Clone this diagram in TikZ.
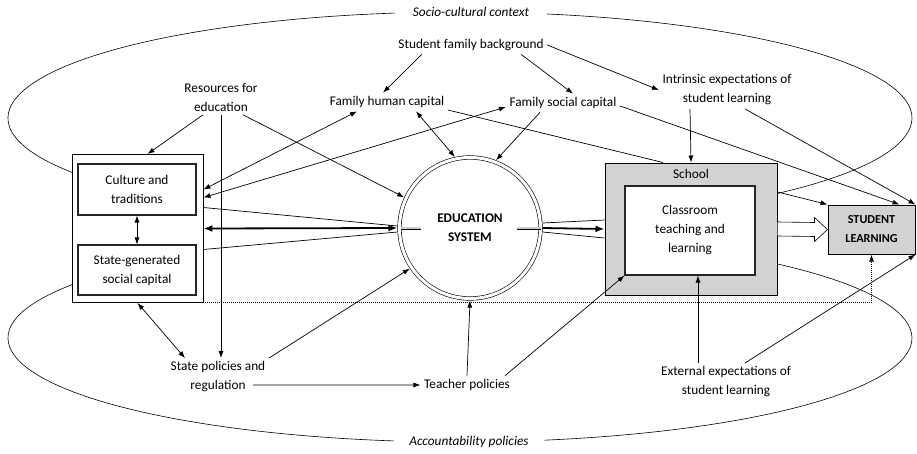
\documentclass[tikz,border=0pt]{standalone}
\usepackage{fontspec}
\setmainfont{Carlito}
\usepackage{tikz}
\usetikzlibrary{arrows, arrows.meta, positioning, shapes}

\newcommand{\diagfont}{\fontsize{13.3}{19}\selectfont}

\begin{document}
\begin{tikzpicture}[x=1pt, y=-1pt, line width=0.7pt, >={Latex[length=7pt, width=5pt]},
  every node/.style={font=\diagfont},
  box/.style={draw=black!85, line width=1.1pt, align=center, inner sep=0pt},
  bigarrow/.style={line width=1.8pt, >={Latex[length=9pt, width=7pt]}}]

\useasboundingbox (0,0) rectangle (917,453);

% context curves
\draw [line width=0.6pt] ([shift={(460,118)}]211:452pt and 106pt) arc [start angle=211, end angle=-45.3, x radius=452pt, y radius=106pt];
\draw [line width=0.6pt] ([shift={(460,338)}]149.1:452pt and 104pt) arc [start angle=149.1, end angle=405.3, x radius=452pt, y radius=104pt];
\node [fill=white, inner xsep=18pt, font=\diagfont\itshape] (socio)   at (471,12)  {Socio-cultural context};
\node [fill=white, inner xsep=15pt, font=\diagfont\itshape] (account) at (469,442) {Accountability policies};

% boxes
\node [draw, fill=white, line width=0.9pt, minimum width=131pt, minimum height=148pt] (ctx) at (137.5,228.5) {};
\node [box, minimum width=118pt, minimum height=51pt] (culture)  at (137,189.5) {Culture and\\traditions};
\node [box, minimum width=118pt, minimum height=50pt] (stategen) at (137,270)   {State-generated\\social capital};

\node [draw, circle, double, double distance=3pt, line width=0.6pt, minimum size=141pt, inner sep=0pt, outer sep=2.1pt, align=center, font=\diagfont\bfseries] (edu) at (470,228) {EDUCATION\\SYSTEM};

\node [draw, fill=gray!35, line width=1pt, minimum width=172pt, minimum height=132pt] (school) at (691,229) {};
\node [below=3pt of school.north] (schoollbl) {School};
\node [box, fill=white, minimum width=130pt, minimum height=89pt] (classroom) at (690,230.5) {Classroom\\teaching and\\learning};

\node [draw, fill=gray!35, line width=1pt, minimum width=87pt, minimum height=49pt, align=center, font=\fontsize{12.2}{19}\selectfont\bfseries] (student) at (871.5,229.5) {STUDENT\\LEARNING};

% labels
\node                (fambg)      at (471,45)  {Student family background};
\node [align=center] (resources)  at (221,97)  {Resources for\\education};
\node                (humancap)   at (387,102) {Family human capital};
\node                (socialcap)  at (563,103) {Family social capital};
\node [align=center] (intrinsic)  at (727,90)  {Intrinsic expectations of\\student learning};
\node [align=center] (statepol)   at (218,377) {State policies and\\regulation};
\node                (teacherpol) at (467,385) {Teacher policies};
\node [align=center] (external)   at (726,382) {External expectations of\\student learning};

% arrows
\path [draw, ->] ([xshift=27pt]fambg.south west) -- ([xshift=-4pt]humancap.north);
\path [draw, ->] ([xshift=-26pt]fambg.south east) -- ([xshift=10pt]socialcap.north);
\path [draw, ->] (fambg.east) -- (intrinsic.west);

\path [draw, ->] ([xshift=-18pt]resources.south) -- ([xshift=10pt]ctx.north);
\path [draw, ->] (resources.south) -- (resources.south |- statepol.north);
\path [draw, ->] ([xshift=22pt]resources.south) -- (edu.155);

\path [draw, <->] ([yshift=39pt]ctx.east) -- ([xshift=-30pt]humancap.south);
\path [draw, <->] ([yshift=31pt]ctx.east) -- ([yshift=-4pt]socialcap.west);
\path [draw, <->] ([xshift=29pt]humancap.south) -- (edu.102);
\path [draw] ([yshift=-8pt]humancap.east) -- ([xshift=-28pt]school.north);
\path [draw, ->] ([xshift=-23pt]socialcap.south) -- (edu.69);
\path [draw, ->] ([yshift=-3pt]socialcap.east) -- ([xshift=28pt]student.north);

\path [draw, ->] ([xshift=-37pt]intrinsic.south) -- (school.north);
\path [draw, ->] ([xshift=18pt]intrinsic.south) -- (student.north east);

\path [draw, <->] (culture.south) -- (stategen.north);
\path [draw, <->] (ctx.south) -- ([xshift=-33pt]statepol.north);
\path [draw, ->] (statepol.north east) -- (edu.214);
\path [draw, ->] ([xshift=35pt, yshift=11pt]statepol.south) -- (teacherpol.west);

\path [draw, ->] (teacherpol.north) -- (edu.south);
\path [draw, ->] ([xshift=38pt]teacherpol.north) -- (classroom.south west);

\path [draw, ->] ([xshift=-28pt]external.north) -- ([xshift=8pt]classroom.south);
\path [draw, ->] ([xshift=19pt]external.north) -- (student.south east);

% flow through the education system
\path [draw] ([yshift=21pt]ctx.east) -- ([yshift=2pt]edu.west);
\path [draw] ([yshift=-21pt]ctx.east) -- ([yshift=-4pt]edu.west);
\path [draw, bigarrow, <->] (ctx.east) -- (edu.west);
\draw [double=gray!40, double distance=2pt, line width=0.5pt] ([xshift=4pt]edu.west) -- ++(20,0);
\draw [double=gray!40, double distance=2pt, line width=0.5pt] ([xshift=-2pt]edu.east) -- ++(-24,0);
\path [draw] ([yshift=5pt]edu.east) -- ([yshift=9pt]school.west);
\path [draw] ([yshift=-4pt]edu.east) -- ([yshift=-9pt]school.west);
\path [draw, bigarrow, ->] (edu.east) -- (school.west);

\path [draw, ->] ([yshift=37pt]school.east) -- (student.north west);
\draw [fill=white, line width=0.6pt] ([yshift=7pt]school.east) -- ([xshift=-13pt, yshift=7pt]student.west) -- ([xshift=-13pt, yshift=12pt]student.west) -- (student.west) -- ([xshift=-13pt, yshift=-12pt]student.west) -- ([xshift=-13pt, yshift=-7pt]student.west) -- ([yshift=-7pt]school.east);
\path [draw, densely dotted, line width=1pt, ->] (ctx.south east) -| (student.south);

\end{tikzpicture}
\end{document}
